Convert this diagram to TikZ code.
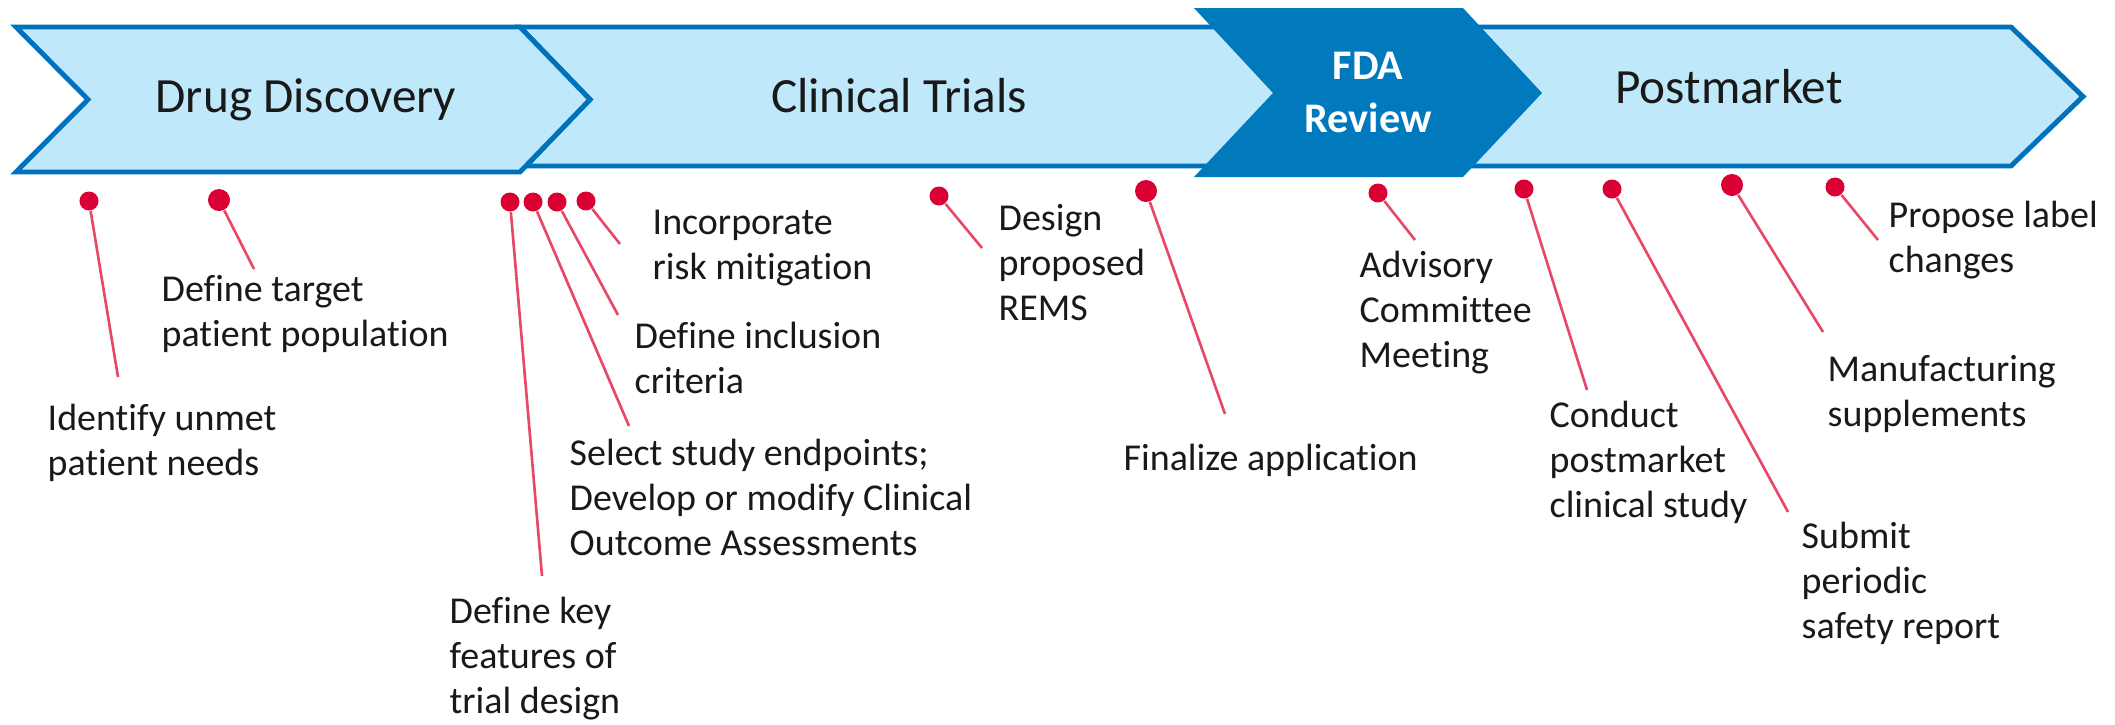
\documentclass[tikz,border=0pt]{standalone}
\usepackage{fontspec}
\setmainfont{Carlito}[Ligatures=NoCommon]
\usepackage{tikz}
\usepackage{xcolor}

\definecolor{bandfill}{RGB}{192,232,251}
\definecolor{bandline}{RGB}{0,114,188}
\definecolor{fdablue}{RGB}{0,121,189}
\definecolor{pin}{RGB}{218,0,52}
\definecolor{pinline}{RGB}{232,72,104}
\definecolor{ink}{RGB}{25,25,25}

\tikzset{
    band/.style={fill=bandfill, draw=bandline, line width=1.4pt},
    phase/.style={font=\fontsize{14}{17}\selectfont, text=ink, inner sep=0pt, anchor=base},
    dot/.style={circle, fill=pin, inner sep=0pt, minimum size=0.19cm},
    bigdot/.style={dot, minimum size=0.22cm},
    leader/.style={draw=pinline, line width=0.75pt},
    lbl/.style={font=\fontsize{10.8}{12.8}\selectfont, text=ink, align=left, inner sep=0pt, anchor=north west}
}

\begin{document}
\begin{tikzpicture}[x=0.01cm, y=-0.01cm]
        \useasboundingbox (0,0) rectangle (2115,724);

        % phase arrows (clinical trials sits under drug discovery, FDA review on top)
        \draw[band] (520,27) -- (1215,27) -- (1285,96.5) -- (1215,166) -- (526,166) -- (590,99.5) -- cycle;
        \draw[band] (16,27) -- (520,27) -- (590,99.5) -- (520,172) -- (16,172) -- (88,99.5) -- cycle;
        \draw[band] (1462,27) -- (2011,27) -- (2083,96.5) -- (2011,166) -- (1462,166) -- (1532,96.5) -- cycle;
        \fill[fdablue] (1194,8) -- (1463,8) -- (1542,93) -- (1463,177) -- (1194,177) -- (1273,93) -- cycle;

        \node[phase] (discovery) at (306,112) {Drug Discovery};
        \node[phase] (trials) at (899,112) {Clinical Trials};
        \node[phase] (postmarket) at (1729,103) {Postmarket};
        \node[inner sep=0pt, align=center, text=white, font=\fontsize{12}{15}\selectfont\bfseries] (review) at (1368,92.5) {FDA\\Review};

        % milestone pins
        \node[dot] (d1) at (89,201) {};
        \node[bigdot] (d2) at (219,200) {};
        \node[dot] (d3) at (510,202) {};
        \node[dot] (d4) at (533,202) {};
        \node[dot] (d5) at (557,202) {};
        \node[dot] (d6) at (586,201) {};
        \node[dot] (d7) at (939,196) {};
        \node[bigdot] (d8) at (1146,191) {};
        \node[dot] (d9) at (1378,193) {};
        \node[dot] (d10) at (1524,189) {};
        \node[dot] (d11) at (1612,189) {};
        \node[bigdot] (d12) at (1732,185) {};
        \node[dot] (d13) at (1835,187) {};

        \coordinate (e1) at (118,377);
        \coordinate (e2) at (254,269);
        \coordinate (e3) at (542,576);
        \coordinate (e4) at (629,426);
        \coordinate (e5) at (618,315);
        \coordinate (e6) at (620,244);
        \coordinate (e7) at (982,248);
        \coordinate (e8) at (1225,414);
        \coordinate (e9) at (1415,240);
        \coordinate (e10) at (1587,390);
        \coordinate (e11) at (1788,512);
        \coordinate (e12) at (1823,332);
        \coordinate (e13) at (1878,240);

        \draw[leader] (d1) -- (e1);
        \draw[leader] (d2) -- (e2);
        \draw[leader] (d3) -- (e3);
        \draw[leader] (d4) -- (e4);
        \draw[leader] (d5) -- (e5);
        \draw[leader] (d6) -- (e6);
        \draw[leader] (d7) -- (e7);
        \draw[leader] (d8) -- (e8);
        \draw[leader] (d9) -- (e9);
        \draw[leader] (d10) -- (e10);
        \draw[leader] (d11) -- (e11);
        \draw[leader] (d12) -- (e12);
        \draw[leader] (d13) -- (e13);

        % milestone texts
        \node[lbl] (unmet) at (47,403) {Identify unmet\\patient needs};
        \node[lbl] (target) at (161,275) {Define target\\patient population};
        \node[lbl] (keyfeat) at (449,596) {Define key\\features of\\trial design};
        \node[lbl] (endpoints) at (569,438) {Select study endpoints;\\Develop or modify Clinical\\Outcome Assessments};
        \node[lbl] (inclusion) at (634,321) {Define inclusion\\criteria};
        \node[lbl] (risk) at (652,209) {Incorporate\\risk mitigation};
        \node[lbl] (rems) at (998,204) {Design\\proposed\\REMS};
        \node[lbl] (finalize) at (1123,443) {Finalize application};
        \node[lbl] (advisory) at (1359,250) {Advisory\\Committee\\Meeting};
        \node[lbl] (study) at (1549,400) {Conduct\\postmarket\\clinical study};
        \node[lbl] (safety) at (1801,521) {Submit\\periodic\\safety report};
        \node[lbl] (mfg) at (1827,355) {Manufacturing\\supplements};
        \node[lbl] (labelchg) at (1888,200) {Propose label\\changes};
    \end{tikzpicture}
\end{document}
